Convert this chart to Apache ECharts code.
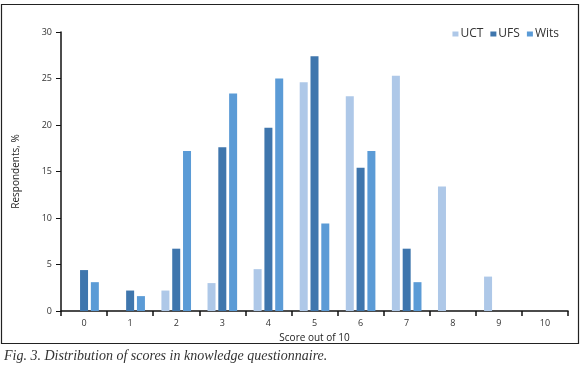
<!DOCTYPE html>
<html>
<head>
<meta charset="utf-8">
<script src="https://cdn.jsdelivr.net/npm/echarts@6/dist/echarts.min.js"></script>
<style>
html, body { margin: 0; padding: 0; background: #fff; }
#chart { width: 580px; height: 374px; }
</style>
</head>
<body>
<div id="chart"></div>
<script>
// scores 0..10, percentage of respondents per university
var scores = ['0', '1', '2', '3', '4', '5', '6', '7', '8', '9', '10'];
var uct  = [0, 0, 2.2, 3.0, 4.5, 24.6, 23.1, 25.3, 13.4, 3.7, 0];
var ufs  = [4.4, 2.2, 6.7, 17.6, 19.7, 27.4, 15.4, 6.7, 0, 0, 0];
var wits = [3.1, 1.6, 17.2, 23.4, 25.0, 9.4, 17.2, 3.1, 0, 0, 0];
var yTicks = [0, 5, 10, 15, 20, 25, 30];

var fontUi = 'Open Sans, sans-serif';

function bar(name, data, color) {
    return {
        name: name,
        type: 'bar',
        data: data,
        barWidth: 8,
        barGap: '35%',
        itemStyle: { color: color }
    };
}

var myChart = echarts.init(document.getElementById('chart'));
var option = {
    animation: false,
    grid: { left: 61, right: 12, top: 32, bottom: 63 },
    legend: {
        right: 16,
        top: 23,
        itemWidth: 6,
        itemHeight: 5,
        itemGap: 7,
        icon: 'rect',
        textStyle: { fontFamily: fontUi, fontSize: 12, color: '#333', padding: [0, 0, 0, -3] },
        data: ['UCT', 'UFS', 'Wits']
    },
    xAxis: {
        type: 'category',
        data: scores,
        name: 'Score out of 10',
        nameLocation: 'middle',
        nameGap: 21,
        nameTextStyle: { fontFamily: fontUi, fontSize: 10, color: '#222' },
        axisLine: { lineStyle: { color: '#111', width: 1.5 } },
        axisTick: { show: true, length: 5, lineStyle: { color: '#111', width: 1.5 } },
        axisLabel: { fontFamily: fontUi, fontSize: 9, color: '#333', margin: 8 }
    },
    yAxis: {
        type: 'value',
        min: yTicks[0],
        max: yTicks[yTicks.length - 1],
        interval: 5,
        name: 'Respondents, %',
        nameLocation: 'middle',
        nameGap: 40,
        nameTextStyle: { fontFamily: fontUi, fontSize: 10, color: '#222' },
        axisLine: { show: true, lineStyle: { color: '#111', width: 1.5 } },
        axisTick: { show: true, length: 5, lineStyle: { color: '#111', width: 1 } },
        axisLabel: { fontFamily: fontUi, fontSize: 9, color: '#333', margin: 9 },
        splitLine: { show: false }
    },
    series: [
        bar('UCT', uct, '#aec8e8'),
        bar('UFS', ufs, '#3f76ad'),
        bar('Wits', wits, '#5b9bd6')
    ],
    graphic: [
        {
            type: 'rect',
            shape: { x: 1.5, y: 4.5, width: 577, height: 339 },
            style: { fill: 'none', stroke: '#222', lineWidth: 1.2 },
            z: -1
        },
        {
            type: 'text',
            left: 4,
            top: 349,
            style: {
                text: 'Fig. 3. Distribution of scores in knowledge questionnaire.',
                fontFamily: 'Liberation Serif, serif',
                fontStyle: 'italic',
                fontSize: 14,
                fill: '#333'
            }
        }
    ]
};
myChart.setOption(option);
</script>
</body>
</html>
